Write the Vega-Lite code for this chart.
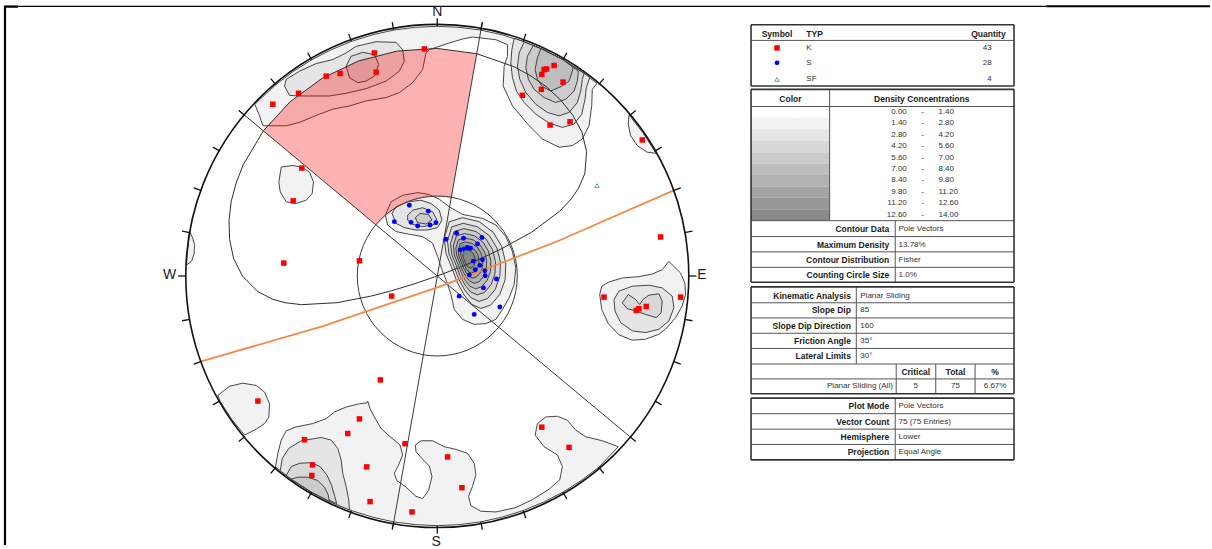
{
"$schema":"https://vega.github.io/schema/vega-lite/v6.json",
"width":1212,"height":549,"padding":0,
"autosize":{"type":"fit","contains":"padding"},
"background":"white",
"config":{"view":{"stroke":null},"font":"Liberation Sans"},
"encoding":{
 "x":{"field":"x","type":"quantitative","scale":{"domain":[-438,774],"nice":false,"zero":false},"axis":null},
 "y":{"field":"y","type":"quantitative","scale":{"domain":[-278,271],"nice":false,"zero":false,"reverse":true},"axis":null}
},
"datasets":{
"contours":[
{"id":"A1","lev":1,"x":-182.7,"y":-172.8},{"id":"A1","lev":1,"x":-178,"y":-161.3},{"id":"A1","lev":1,"x":-174.7,"y":-151.3},{"id":"A1","lev":1,"x":-151.3,"y":-151.3},{"id":"A1","lev":1,"x":-138,"y":-154.7},{"id":"A1","lev":1,"x":-118,"y":-163},{"id":"A1","lev":1,"x":-104.7,"y":-168},{"id":"A1","lev":1,"x":-88,"y":-171.3},{"id":"A1","lev":1,"x":-71.3,"y":-176.3},{"id":"A1","lev":1,"x":-51.3,"y":-179.7},{"id":"A1","lev":1,"x":-38,"y":-184.7},{"id":"A1","lev":1,"x":-24.7,"y":-194.7},{"id":"A1","lev":1,"x":-14.7,"y":-208},{"id":"A1","lev":1,"x":-11.3,"y":-224.7},{"id":"A1","lev":1,"x":-8,"y":-228},{"id":"A1","lev":1,"x":12,"y":-234.7},{"id":"A1","lev":1,"x":25.3,"y":-238.7},{"id":"A1","lev":1,"x":35.3,"y":-240.7},{"id":"A1","lev":1,"x":58.7,"y":-238},{"id":"A1","lev":1,"x":70.3,"y":-233},{"id":"A1","lev":1,"x":70.3,"y":-221.3},{"id":"A1","lev":1,"x":67,"y":-211.3},{"id":"A1","lev":1,"x":66,"y":-191.3},{"id":"A1","lev":1,"x":75.3,"y":-171.3},{"id":"A1","lev":1,"x":92,"y":-151.3},{"id":"A1","lev":1,"x":105.3,"y":-138},{"id":"A1","lev":1,"x":122,"y":-129.7},{"id":"A1","lev":1,"x":135.3,"y":-131.3},{"id":"A1","lev":1,"x":145.3,"y":-138},{"id":"A1","lev":1,"x":152,"y":-151.3},{"id":"A1","lev":1,"x":154.7,"y":-171.3},{"id":"A1","lev":1,"x":155.3,"y":-188},{"id":"A1","lev":1,"x":160,"y":-194.1},{"id":"A1","lev":1,"x":144.3,"y":-206},{"id":"A1","lev":1,"x":125.8,"y":-217.8},{"id":"A1","lev":1,"x":106.3,"y":-227.9},{"id":"A1","lev":1,"x":86,"y":-236.3},{"id":"A1","lev":1,"x":65.1,"y":-242.9},{"id":"A1","lev":1,"x":43.7,"y":-247.7},{"id":"A1","lev":1,"x":21.9,"y":-250.5},{"id":"A1","lev":1,"x":0,"y":-251.5},{"id":"A1","lev":1,"x":-21.9,"y":-250.5},{"id":"A1","lev":1,"x":-43.7,"y":-247.7},{"id":"A1","lev":1,"x":-65.1,"y":-242.9},{"id":"A1","lev":1,"x":-86,"y":-236.3},{"id":"A1","lev":1,"x":-106.3,"y":-227.9},{"id":"A1","lev":1,"x":-125.8,"y":-217.8},{"id":"A1","lev":1,"x":-144.3,"y":-206},{"id":"A1","lev":1,"x":-161.7,"y":-192.7},{"id":"A1","lev":1,"x":-177.8,"y":-177.8},
{"id":"A2","lev":2,"x":-151.3,"y":-198},{"id":"A2","lev":2,"x":-138,"y":-206.3},{"id":"A2","lev":2,"x":-121.3,"y":-214},{"id":"A2","lev":2,"x":-104.7,"y":-218},{"id":"A2","lev":2,"x":-91.3,"y":-224.7},{"id":"A2","lev":2,"x":-81.3,"y":-231.3},{"id":"A2","lev":2,"x":-61.3,"y":-236},{"id":"A2","lev":2,"x":-41.3,"y":-235.3},{"id":"A2","lev":2,"x":-34.7,"y":-228},{"id":"A2","lev":2,"x":-33,"y":-216.3},{"id":"A2","lev":2,"x":-38,"y":-206.3},{"id":"A2","lev":2,"x":-51.3,"y":-196.3},{"id":"A2","lev":2,"x":-71.3,"y":-188.7},{"id":"A2","lev":2,"x":-91.3,"y":-184},{"id":"A2","lev":2,"x":-108,"y":-181.3},{"id":"A2","lev":2,"x":-124.7,"y":-181.3},{"id":"A2","lev":2,"x":-139.7,"y":-181.3},{"id":"A2","lev":2,"x":-148,"y":-182},{"id":"A2","lev":2,"x":-153,"y":-191.3},
{"id":"A3","lev":3,"x":-91.3,"y":-211.3},{"id":"A3","lev":3,"x":-86.3,"y":-221.3},{"id":"A3","lev":3,"x":-74.7,"y":-225.3},{"id":"A3","lev":3,"x":-63,"y":-223},{"id":"A3","lev":3,"x":-58.7,"y":-213},{"id":"A3","lev":3,"x":-63,"y":-201.3},{"id":"A3","lev":3,"x":-71.3,"y":-196.3},{"id":"A3","lev":3,"x":-79.7,"y":-194.7},{"id":"A3","lev":3,"x":-88,"y":-199.7},
{"id":"T2","lev":2,"x":77,"y":-239.3},{"id":"T2","lev":2,"x":74.7,"y":-228},{"id":"T2","lev":2,"x":73.7,"y":-214.7},{"id":"T2","lev":2,"x":75.3,"y":-199.7},{"id":"T2","lev":2,"x":79.3,"y":-186.3},{"id":"T2","lev":2,"x":87,"y":-174.7},{"id":"T2","lev":2,"x":98.7,"y":-163},{"id":"T2","lev":2,"x":112,"y":-154},{"id":"T2","lev":2,"x":125.3,"y":-149.7},{"id":"T2","lev":2,"x":137,"y":-153},{"id":"T2","lev":2,"x":144.7,"y":-163},{"id":"T2","lev":2,"x":148,"y":-178},{"id":"T2","lev":2,"x":149.3,"y":-189.7},{"id":"T2","lev":2,"x":152.7,"y":-200},{"id":"T2","lev":2,"x":144.3,"y":-206},{"id":"T2","lev":2,"x":125.8,"y":-217.8},{"id":"T2","lev":2,"x":106.3,"y":-227.9},{"id":"T2","lev":2,"x":86,"y":-236.3},
{"id":"T3","lev":3,"x":87,"y":-235.7},{"id":"T3","lev":3,"x":82,"y":-224.7},{"id":"T3","lev":3,"x":80.3,"y":-211.3},{"id":"T3","lev":3,"x":82.7,"y":-198},{"id":"T3","lev":3,"x":88.7,"y":-184.7},{"id":"T3","lev":3,"x":98.7,"y":-173},{"id":"T3","lev":3,"x":110.3,"y":-164.7},{"id":"T3","lev":3,"x":122,"y":-161.3},{"id":"T3","lev":3,"x":132,"y":-164.7},{"id":"T3","lev":3,"x":140.3,"y":-174.7},{"id":"T3","lev":3,"x":143.7,"y":-186.3},{"id":"T3","lev":3,"x":145.3,"y":-198},{"id":"T3","lev":3,"x":147,"y":-204},{"id":"T3","lev":3,"x":125.8,"y":-217.8},{"id":"T3","lev":3,"x":106.3,"y":-227.9},
{"id":"T4","lev":4,"x":96,"y":-232},{"id":"T4","lev":4,"x":90.3,"y":-221.3},{"id":"T4","lev":4,"x":88.7,"y":-209.7},{"id":"T4","lev":4,"x":91.3,"y":-198},{"id":"T4","lev":4,"x":97,"y":-188},{"id":"T4","lev":4,"x":107,"y":-179.7},{"id":"T4","lev":4,"x":118.7,"y":-174.7},{"id":"T4","lev":4,"x":128.7,"y":-178},{"id":"T4","lev":4,"x":137,"y":-186.3},{"id":"T4","lev":4,"x":140.3,"y":-196.3},{"id":"T4","lev":4,"x":141.3,"y":-206.3},{"id":"T4","lev":4,"x":125.8,"y":-217.8},{"id":"T4","lev":4,"x":106.3,"y":-227.9},
{"id":"T5","lev":5,"x":103.7,"y":-229},{"id":"T5","lev":5,"x":100.3,"y":-219.7},{"id":"T5","lev":5,"x":98,"y":-208},{"id":"T5","lev":5,"x":100.3,"y":-198},{"id":"T5","lev":5,"x":105.3,"y":-190.7},{"id":"T5","lev":5,"x":113.7,"y":-186.3},{"id":"T5","lev":5,"x":123.7,"y":-190.7},{"id":"T5","lev":5,"x":132,"y":-196.3},{"id":"T5","lev":5,"x":135.3,"y":-206.3},{"id":"T5","lev":5,"x":136,"y":-210.3},{"id":"T5","lev":5,"x":125.8,"y":-217.8},
{"id":"C1","lev":1,"x":192.1,"y":-162.3},{"id":"C1","lev":1,"x":191.3,"y":-153},{"id":"C1","lev":1,"x":193.7,"y":-141.3},{"id":"C1","lev":1,"x":200.3,"y":-131.3},{"id":"C1","lev":1,"x":210.3,"y":-124.7},{"id":"C1","lev":1,"x":219.3,"y":-123.5},{"id":"C1","lev":1,"x":206,"y":-144.3},
{"id":"D1","lev":1,"x":-156.3,"y":-109.7},{"id":"D1","lev":1,"x":-144.7,"y":-111.3},{"id":"D1","lev":1,"x":-136.3,"y":-109.7},{"id":"D1","lev":1,"x":-128,"y":-104.7},{"id":"D1","lev":1,"x":-124,"y":-94.7},{"id":"D1","lev":1,"x":-125.3,"y":-83},{"id":"D1","lev":1,"x":-131.3,"y":-76.3},{"id":"D1","lev":1,"x":-141.3,"y":-73},{"id":"D1","lev":1,"x":-151.3,"y":-74.7},{"id":"D1","lev":1,"x":-157.3,"y":-84.7},{"id":"D1","lev":1,"x":-158.7,"y":-94.7},
{"id":"J1","lev":1,"x":-247.6,"y":-44},{"id":"J1","lev":1,"x":-245,"y":-38},{"id":"J1","lev":1,"x":-243,"y":-31},{"id":"J1","lev":1,"x":-243.7,"y":-22},{"id":"J1","lev":1,"x":-246,"y":-15},{"id":"J1","lev":1,"x":-251.2,"y":-11},{"id":"J1","lev":1,"x":-250.5,"y":-21.9},{"id":"J1","lev":1,"x":-249.3,"y":-33},
{"id":"E1","lev":1,"x":-52,"y":-61.3},{"id":"E1","lev":1,"x":-46.3,"y":-74.7},{"id":"E1","lev":1,"x":-34.7,"y":-81.3},{"id":"E1","lev":1,"x":-19.7,"y":-84},{"id":"E1","lev":1,"x":-8,"y":-82},{"id":"E1","lev":1,"x":2,"y":-77.3},{"id":"E1","lev":1,"x":12,"y":-69.7},{"id":"E1","lev":1,"x":25.3,"y":-62},{"id":"E1","lev":1,"x":45.3,"y":-58},{"id":"E1","lev":1,"x":58.7,"y":-51.3},{"id":"E1","lev":1,"x":68.7,"y":-39.7},{"id":"E1","lev":1,"x":75.3,"y":-24.7},{"id":"E1","lev":1,"x":78.7,"y":-8},{"id":"E1","lev":1,"x":77,"y":8.7},{"id":"E1","lev":1,"x":72,"y":22},{"id":"E1","lev":1,"x":65.3,"y":33.7},{"id":"E1","lev":1,"x":58.7,"y":43.7},{"id":"E1","lev":1,"x":48.7,"y":48},{"id":"E1","lev":1,"x":37,"y":48.7},{"id":"E1","lev":1,"x":25.3,"y":43.7},{"id":"E1","lev":1,"x":17,"y":33.7},{"id":"E1","lev":1,"x":13.7,"y":18.7},{"id":"E1","lev":1,"x":9.3,"y":5.3},{"id":"E1","lev":1,"x":4.7,"y":-6.3},{"id":"E1","lev":1,"x":0.3,"y":-19.7},{"id":"E1","lev":1,"x":-4.7,"y":-33},{"id":"E1","lev":1,"x":-14.7,"y":-39.7},{"id":"E1","lev":1,"x":-28,"y":-42},{"id":"E1","lev":1,"x":-41.3,"y":-44.7},{"id":"E1","lev":1,"x":-49.7,"y":-51.3},
{"id":"EL2","lev":2,"x":-45.3,"y":-63},{"id":"EL2","lev":2,"x":-41.3,"y":-69.7},{"id":"EL2","lev":2,"x":-29.7,"y":-74.7},{"id":"EL2","lev":2,"x":-16.3,"y":-76.3},{"id":"EL2","lev":2,"x":-6.3,"y":-73},{"id":"EL2","lev":2,"x":2,"y":-66.3},{"id":"EL2","lev":2,"x":4.7,"y":-56.3},{"id":"EL2","lev":2,"x":0.3,"y":-48.7},{"id":"EL2","lev":2,"x":-9.7,"y":-46.3},{"id":"EL2","lev":2,"x":-21.3,"y":-46.3},{"id":"EL2","lev":2,"x":-33,"y":-48.7},{"id":"EL2","lev":2,"x":-41.3,"y":-53},
{"id":"EL3","lev":3,"x":-29.7,"y":-61.3},{"id":"EL3","lev":3,"x":-24.7,"y":-66.3},{"id":"EL3","lev":3,"x":-14.7,"y":-68.7},{"id":"EL3","lev":3,"x":-4.7,"y":-64.7},{"id":"EL3","lev":3,"x":-0.7,"y":-57.3},{"id":"EL3","lev":3,"x":-4,"y":-51.3},{"id":"EL3","lev":3,"x":-14.7,"y":-49.7},{"id":"EL3","lev":3,"x":-24.7,"y":-52},{"id":"EL3","lev":3,"x":-29.7,"y":-56.3},
{"id":"EL4","lev":4,"x":-22,"y":-58.7},{"id":"EL4","lev":4,"x":-17.3,"y":-63},{"id":"EL4","lev":4,"x":-8.7,"y":-62},{"id":"EL4","lev":4,"x":-5.3,"y":-56.3},{"id":"EL4","lev":4,"x":-11.3,"y":-52.3},{"id":"EL4","lev":4,"x":-19.7,"y":-53.7},
{"id":"ER2","lev":2,"x":12,"y":-54.7},{"id":"ER2","lev":2,"x":25.3,"y":-58.7},{"id":"ER2","lev":2,"x":42,"y":-54.7},{"id":"ER2","lev":2,"x":56,"y":-44},{"id":"ER2","lev":2,"x":64.6,"y":-29.7},{"id":"ER2","lev":2,"x":68.6,"y":-13},{"id":"ER2","lev":2,"x":68,"y":3.7},{"id":"ER2","lev":2,"x":62.6,"y":18.7},{"id":"ER2","lev":2,"x":53.6,"y":29.3},{"id":"ER2","lev":2,"x":43.6,"y":32.7},{"id":"ER2","lev":2,"x":34.6,"y":28.7},{"id":"ER2","lev":2,"x":27,"y":19.3},{"id":"ER2","lev":2,"x":20.3,"y":7},{"id":"ER2","lev":2,"x":14.6,"y":-8},{"id":"ER2","lev":2,"x":8.6,"y":-23},{"id":"ER2","lev":2,"x":7,"y":-38},
{"id":"ER3","lev":3,"x":14.5,"y":-49.5},{"id":"ER3","lev":3,"x":26,"y":-53},{"id":"ER3","lev":3,"x":40.3,"y":-49.5},{"id":"ER3","lev":3,"x":52.4,"y":-40.4},{"id":"ER3","lev":3,"x":59.8,"y":-28},{"id":"ER3","lev":3,"x":63.3,"y":-13.7},{"id":"ER3","lev":3,"x":62.7,"y":0.6},{"id":"ER3","lev":3,"x":58.1,"y":13.5},{"id":"ER3","lev":3,"x":50.4,"y":22.7},{"id":"ER3","lev":3,"x":41.8,"y":25.6},{"id":"ER3","lev":3,"x":34,"y":22.1},{"id":"ER3","lev":3,"x":27.4,"y":14.1},{"id":"ER3","lev":3,"x":21.7,"y":3.5},{"id":"ER3","lev":3,"x":16.8,"y":-9.4},{"id":"ER3","lev":3,"x":11.7,"y":-22.3},{"id":"ER3","lev":3,"x":10.2,"y":-35.2},
{"id":"ER4","lev":4,"x":16.9,"y":-44.8},{"id":"ER4","lev":4,"x":26.7,"y":-47.7},{"id":"ER4","lev":4,"x":38.8,"y":-44.8},{"id":"ER4","lev":4,"x":49,"y":-37},{"id":"ER4","lev":4,"x":55.4,"y":-26.5},{"id":"ER4","lev":4,"x":58.3,"y":-14.4},{"id":"ER4","lev":4,"x":57.8,"y":-2.2},{"id":"ER4","lev":4,"x":53.9,"y":8.8},{"id":"ER4","lev":4,"x":47.3,"y":16.6},{"id":"ER4","lev":4,"x":40,"y":19},{"id":"ER4","lev":4,"x":33.5,"y":16.1},{"id":"ER4","lev":4,"x":27.9,"y":9.3},{"id":"ER4","lev":4,"x":23,"y":0.3},{"id":"ER4","lev":4,"x":18.9,"y":-10.7},{"id":"ER4","lev":4,"x":14.5,"y":-21.7},{"id":"ER4","lev":4,"x":13.3,"y":-32.6},
{"id":"ER5","lev":5,"x":19.1,"y":-40.4},{"id":"ER5","lev":5,"x":27.3,"y":-42.8},{"id":"ER5","lev":5,"x":37.4,"y":-40.4},{"id":"ER5","lev":5,"x":46,"y":-33.9},{"id":"ER5","lev":5,"x":51.2,"y":-25.1},{"id":"ER5","lev":5,"x":53.7,"y":-15},{"id":"ER5","lev":5,"x":53.3,"y":-4.8},{"id":"ER5","lev":5,"x":50,"y":4.4},{"id":"ER5","lev":5,"x":44.5,"y":10.9},{"id":"ER5","lev":5,"x":38.4,"y":12.9},{"id":"ER5","lev":5,"x":32.9,"y":10.5},{"id":"ER5","lev":5,"x":28.3,"y":4.8},{"id":"ER5","lev":5,"x":24.2,"y":-2.8},{"id":"ER5","lev":5,"x":20.7,"y":-11.9},{"id":"ER5","lev":5,"x":17.1,"y":-21.1},{"id":"ER5","lev":5,"x":16.1,"y":-30.2},
{"id":"ER6","lev":6,"x":21.1,"y":-36.3},{"id":"ER6","lev":6,"x":27.8,"y":-38.3},{"id":"ER6","lev":6,"x":36.1,"y":-36.3},{"id":"ER6","lev":6,"x":43.1,"y":-31},{"id":"ER6","lev":6,"x":47.5,"y":-23.8},{"id":"ER6","lev":6,"x":49.5,"y":-15.5},{"id":"ER6","lev":6,"x":49.1,"y":-7.2},{"id":"ER6","lev":6,"x":46.5,"y":0.3},{"id":"ER6","lev":6,"x":42,"y":5.7},{"id":"ER6","lev":6,"x":37,"y":7.3},{"id":"ER6","lev":6,"x":32.5,"y":5.3},{"id":"ER6","lev":6,"x":28.6,"y":0.7},{"id":"ER6","lev":6,"x":25.3,"y":-5.5},{"id":"ER6","lev":6,"x":22.5,"y":-13},{"id":"ER6","lev":6,"x":19.5,"y":-20.5},{"id":"ER6","lev":6,"x":18.6,"y":-28},
{"id":"ER7","lev":7,"x":23,"y":-32.7},{"id":"ER7","lev":7,"x":28.3,"y":-34.3},{"id":"ER7","lev":7,"x":35,"y":-32.7},{"id":"ER7","lev":7,"x":40.6,"y":-28.4},{"id":"ER7","lev":7,"x":44,"y":-22.7},{"id":"ER7","lev":7,"x":45.6,"y":-16},{"id":"ER7","lev":7,"x":45.4,"y":-9.3},{"id":"ER7","lev":7,"x":43.2,"y":-3.3},{"id":"ER7","lev":7,"x":39.6,"y":0.9},{"id":"ER7","lev":7,"x":35.6,"y":2.3},{"id":"ER7","lev":7,"x":32,"y":0.7},{"id":"ER7","lev":7,"x":29,"y":-3.1},{"id":"ER7","lev":7,"x":26.3,"y":-8},{"id":"ER7","lev":7,"x":24,"y":-14},{"id":"ER7","lev":7,"x":21.6,"y":-20},{"id":"ER7","lev":7,"x":21,"y":-26},
{"id":"ER8","lev":8,"x":24.8,"y":-29},{"id":"ER8","lev":8,"x":28.8,"y":-30.2},{"id":"ER8","lev":8,"x":33.8,"y":-29},{"id":"ER8","lev":8,"x":38,"y":-25.8},{"id":"ER8","lev":8,"x":40.6,"y":-21.5},{"id":"ER8","lev":8,"x":41.8,"y":-16.5},{"id":"ER8","lev":8,"x":41.6,"y":-11.5},{"id":"ER8","lev":8,"x":40,"y":-7},{"id":"ER8","lev":8,"x":37.3,"y":-3.8},{"id":"ER8","lev":8,"x":34.3,"y":-2.8},{"id":"ER8","lev":8,"x":31.6,"y":-4},{"id":"ER8","lev":8,"x":29.3,"y":-6.8},{"id":"ER8","lev":8,"x":27.3,"y":-10.5},{"id":"ER8","lev":8,"x":25.6,"y":-15},{"id":"ER8","lev":8,"x":23.8,"y":-19.5},{"id":"ER8","lev":8,"x":23.3,"y":-24},
{"id":"ER9","lev":9,"x":26.6,"y":-25.3},{"id":"ER9","lev":9,"x":29.3,"y":-26.1},{"id":"ER9","lev":9,"x":32.6,"y":-25.3},{"id":"ER9","lev":9,"x":35.4,"y":-23.2},{"id":"ER9","lev":9,"x":37.2,"y":-20.3},{"id":"ER9","lev":9,"x":38,"y":-17},{"id":"ER9","lev":9,"x":37.8,"y":-13.7},{"id":"ER9","lev":9,"x":36.8,"y":-10.7},{"id":"ER9","lev":9,"x":35,"y":-8.5},{"id":"ER9","lev":9,"x":33,"y":-7.9},{"id":"ER9","lev":9,"x":31.2,"y":-8.7},{"id":"ER9","lev":9,"x":29.6,"y":-10.5},{"id":"ER9","lev":9,"x":28.3,"y":-13},{"id":"ER9","lev":9,"x":27.2,"y":-16},{"id":"ER9","lev":9,"x":26,"y":-19},{"id":"ER9","lev":9,"x":25.6,"y":-22},
{"id":"F1","lev":1,"x":162.7,"y":18.7},{"id":"F1","lev":1,"x":164.7,"y":10.3},{"id":"F1","lev":1,"x":172,"y":6},{"id":"F1","lev":1,"x":185.3,"y":2},{"id":"F1","lev":1,"x":202,"y":0.7},{"id":"F1","lev":1,"x":215.3,"y":-2},{"id":"F1","lev":1,"x":225.3,"y":-6.3},{"id":"F1","lev":1,"x":232,"y":-14.7},{"id":"F1","lev":1,"x":237,"y":-9.7},{"id":"F1","lev":1,"x":243.7,"y":-3},{"id":"F1","lev":1,"x":248,"y":7},{"id":"F1","lev":1,"x":248.7,"y":18.7},{"id":"F1","lev":1,"x":245.3,"y":30.3},{"id":"F1","lev":1,"x":238.7,"y":42},{"id":"F1","lev":1,"x":230.3,"y":52},{"id":"F1","lev":1,"x":222,"y":58.7},{"id":"F1","lev":1,"x":208.7,"y":63.7},{"id":"F1","lev":1,"x":195.3,"y":64.7},{"id":"F1","lev":1,"x":182,"y":59.3},{"id":"F1","lev":1,"x":171.3,"y":48},{"id":"F1","lev":1,"x":164.7,"y":33.7},
{"id":"F2","lev":2,"x":177,"y":23.7},{"id":"F2","lev":2,"x":182,"y":15.3},{"id":"F2","lev":2,"x":195.3,"y":10.3},{"id":"F2","lev":2,"x":212,"y":9.3},{"id":"F2","lev":2,"x":225.3,"y":12},{"id":"F2","lev":2,"x":235.3,"y":20.3},{"id":"F2","lev":2,"x":237,"y":32},{"id":"F2","lev":2,"x":232,"y":45.3},{"id":"F2","lev":2,"x":222,"y":53.7},{"id":"F2","lev":2,"x":208.7,"y":57},{"id":"F2","lev":2,"x":195.3,"y":55.3},{"id":"F2","lev":2,"x":183.7,"y":47},{"id":"F2","lev":2,"x":178,"y":35.3},
{"id":"F3","lev":3,"x":185.3,"y":27},{"id":"F3","lev":3,"x":191.3,"y":18.7},{"id":"F3","lev":3,"x":198.7,"y":23.7},{"id":"F3","lev":3,"x":202.7,"y":28.7},{"id":"F3","lev":3,"x":206,"y":23.7},{"id":"F3","lev":3,"x":212,"y":19.3},{"id":"F3","lev":3,"x":222,"y":18},{"id":"F3","lev":3,"x":225.3,"y":25.3},{"id":"F3","lev":3,"x":224.3,"y":37},{"id":"F3","lev":3,"x":219.3,"y":42},{"id":"F3","lev":3,"x":208.7,"y":38.7},{"id":"F3","lev":3,"x":197,"y":34.7},{"id":"F3","lev":3,"x":190.3,"y":33},
{"id":"G1","lev":1,"x":-162,"y":192},{"id":"G1","lev":1,"x":-159.7,"y":178.7},{"id":"G1","lev":1,"x":-156.3,"y":165.3},{"id":"G1","lev":1,"x":-151.3,"y":156},{"id":"G1","lev":1,"x":-141.3,"y":152},{"id":"G1","lev":1,"x":-124.7,"y":148.7},{"id":"G1","lev":1,"x":-111.3,"y":143.7},{"id":"G1","lev":1,"x":-103,"y":137},{"id":"G1","lev":1,"x":-91.3,"y":132},{"id":"G1","lev":1,"x":-78,"y":128.7},{"id":"G1","lev":1,"x":-70.7,"y":128},{"id":"G1","lev":1,"x":-69.7,"y":126},{"id":"G1","lev":1,"x":-67.3,"y":133.7},{"id":"G1","lev":1,"x":-63,"y":142},{"id":"G1","lev":1,"x":-56.3,"y":153.7},{"id":"G1","lev":1,"x":-46.3,"y":162.7},{"id":"G1","lev":1,"x":-37.3,"y":170.3},{"id":"G1","lev":1,"x":-34.7,"y":180.3},{"id":"G1","lev":1,"x":-38.7,"y":190.3},{"id":"G1","lev":1,"x":-43,"y":198.7},{"id":"G1","lev":1,"x":-40.7,"y":206},{"id":"G1","lev":1,"x":-31.3,"y":212.7},{"id":"G1","lev":1,"x":-21.3,"y":222},{"id":"G1","lev":1,"x":-14.7,"y":224.3},{"id":"G1","lev":1,"x":-8.7,"y":216},{"id":"G1","lev":1,"x":-5.3,"y":202},{"id":"G1","lev":1,"x":-8,"y":191.3},{"id":"G1","lev":1,"x":-14.7,"y":184.7},{"id":"G1","lev":1,"x":-21.3,"y":177},{"id":"G1","lev":1,"x":-22,"y":170.3},{"id":"G1","lev":1,"x":-16.3,"y":166},{"id":"G1","lev":1,"x":-4.7,"y":166},{"id":"G1","lev":1,"x":7,"y":172},{"id":"G1","lev":1,"x":18.7,"y":174.7},{"id":"G1","lev":1,"x":30.3,"y":178.7},{"id":"G1","lev":1,"x":37,"y":188.7},{"id":"G1","lev":1,"x":38.7,"y":200.3},{"id":"G1","lev":1,"x":35.3,"y":212},{"id":"G1","lev":1,"x":31.3,"y":222},{"id":"G1","lev":1,"x":33.7,"y":231.3},{"id":"G1","lev":1,"x":43.7,"y":237},{"id":"G1","lev":1,"x":58.7,"y":237.7},{"id":"G1","lev":1,"x":78.7,"y":233.3},{"id":"G1","lev":1,"x":95.3,"y":225.3},{"id":"G1","lev":1,"x":112,"y":214.7},{"id":"G1","lev":1,"x":122.7,"y":205.3},{"id":"G1","lev":1,"x":125.3,"y":192},{"id":"G1","lev":1,"x":120.3,"y":180.3},{"id":"G1","lev":1,"x":107,"y":172},{"id":"G1","lev":1,"x":98,"y":160.3},{"id":"G1","lev":1,"x":100.3,"y":148.7},{"id":"G1","lev":1,"x":108.7,"y":142},{"id":"G1","lev":1,"x":120.3,"y":141.3},{"id":"G1","lev":1,"x":130.3,"y":145.3},{"id":"G1","lev":1,"x":138.7,"y":155.3},{"id":"G1","lev":1,"x":148.7,"y":162},{"id":"G1","lev":1,"x":165.3,"y":166},{"id":"G1","lev":1,"x":181.3,"y":172},{"id":"G1","lev":1,"x":161.7,"y":192.7},{"id":"G1","lev":1,"x":144.3,"y":206},{"id":"G1","lev":1,"x":125.8,"y":217.8},{"id":"G1","lev":1,"x":106.3,"y":227.9},{"id":"G1","lev":1,"x":86,"y":236.3},{"id":"G1","lev":1,"x":65.1,"y":242.9},{"id":"G1","lev":1,"x":43.7,"y":247.7},{"id":"G1","lev":1,"x":21.9,"y":250.5},{"id":"G1","lev":1,"x":0,"y":251.5},{"id":"G1","lev":1,"x":-21.9,"y":250.5},{"id":"G1","lev":1,"x":-43.7,"y":247.7},{"id":"G1","lev":1,"x":-65.1,"y":242.9},{"id":"G1","lev":1,"x":-86,"y":236.3},{"id":"G1","lev":1,"x":-106.3,"y":227.9},{"id":"G1","lev":1,"x":-125.8,"y":217.8},{"id":"G1","lev":1,"x":-144.3,"y":206},{"id":"G1","lev":1,"x":-161.7,"y":192.7},
{"id":"G2","lev":2,"x":-157.3,"y":196.3},{"id":"G2","lev":2,"x":-155.3,"y":183.7},{"id":"G2","lev":2,"x":-148.7,"y":173.7},{"id":"G2","lev":2,"x":-136.3,"y":166},{"id":"G2","lev":2,"x":-116.3,"y":162.7},{"id":"G2","lev":2,"x":-106.3,"y":165.3},{"id":"G2","lev":2,"x":-99.7,"y":173.7},{"id":"G2","lev":2,"x":-96.3,"y":185.3},{"id":"G2","lev":2,"x":-94.7,"y":198.7},{"id":"G2","lev":2,"x":-91.3,"y":212},{"id":"G2","lev":2,"x":-88.7,"y":225.3},{"id":"G2","lev":2,"x":-88,"y":235.7},{"id":"G2","lev":2,"x":-106.3,"y":227.9},{"id":"G2","lev":2,"x":-125.8,"y":217.8},{"id":"G2","lev":2,"x":-144.3,"y":206},
{"id":"G3","lev":3,"x":-151.3,"y":201},{"id":"G3","lev":3,"x":-146.3,"y":192},{"id":"G3","lev":3,"x":-138,"y":188.7},{"id":"G3","lev":3,"x":-126.3,"y":188},{"id":"G3","lev":3,"x":-117.3,"y":192},{"id":"G3","lev":3,"x":-110.7,"y":200.3},{"id":"G3","lev":3,"x":-106,"y":210.3},{"id":"G3","lev":3,"x":-102.7,"y":222},{"id":"G3","lev":3,"x":-100.7,"y":229.3},{"id":"G3","lev":3,"x":-125.8,"y":217.8},{"id":"G3","lev":3,"x":-144.3,"y":206},
{"id":"G4","lev":4,"x":-146.3,"y":204.7},{"id":"G4","lev":4,"x":-139.7,"y":202.7},{"id":"G4","lev":4,"x":-129.7,"y":202.7},{"id":"G4","lev":4,"x":-119.7,"y":206},{"id":"G4","lev":4,"x":-113,"y":212.7},{"id":"G4","lev":4,"x":-109.3,"y":220.3},{"id":"G4","lev":4,"x":-108,"y":227},{"id":"G4","lev":4,"x":-125.8,"y":217.8},
{"id":"I1","lev":1,"x":-219.7,"y":120.3},{"id":"I1","lev":1,"x":-208,"y":111},{"id":"I1","lev":1,"x":-194.7,"y":108},{"id":"I1","lev":1,"x":-181.3,"y":110.3},{"id":"I1","lev":1,"x":-173,"y":117},{"id":"I1","lev":1,"x":-168,"y":128.7},{"id":"I1","lev":1,"x":-168.7,"y":142},{"id":"I1","lev":1,"x":-173,"y":148.7},{"id":"I1","lev":1,"x":-181.3,"y":154.3},{"id":"I1","lev":1,"x":-193,"y":160.3},{"id":"I1","lev":1,"x":-206,"y":144.3},{"id":"I1","lev":1,"x":-217.8,"y":125.8}
],
"wedge":[
{"x":-61.3,"y":-51.4},{"x":-174.2,"y":-146.2},{"x":-147.3,"y":-175.6},{"x":-115.1,"y":-199.3},{"x":-78.8,"y":-216.6},{"x":-39.9,"y":-226.6},{"x":0,"y":-229.2},{"x":39.5,"y":-223.9},{"x":13.9,"y":-78.8},{"x":0,"y":-80},{"x":-13.9,"y":-78.8},{"x":-27.4,"y":-75.2},{"x":-40,"y":-69.3},{"x":-51.4,"y":-61.3}
],
"envelope":[
{"x":0,"y":0},{"x":-23.4,"y":8.1},{"x":-45.9,"y":14.9},{"x":-66.5,"y":20.3},{"x":-100.4,"y":26.9},{"x":-136,"y":28.9},{"x":-152.5,"y":26.9},{"x":-165.4,"y":23.2},{"x":-179.8,"y":15.7},{"x":-195.2,"y":0},{"x":-204.1,"y":-17.9},{"x":-208,"y":-36.7},{"x":-208.6,"y":-55.9},{"x":-206.4,"y":-75.1},{"x":-201.4,"y":-93.9},{"x":-194.3,"y":-112.2},{"x":-174.2,"y":-146.2},{"x":-147.3,"y":-175.6},{"x":-115.1,"y":-199.3},{"x":-78.8,"y":-216.6},{"x":-39.9,"y":-226.6},{"x":0,"y":-229.2},{"x":39.5,"y":-223.9},{"x":76.7,"y":-210.9},{"x":93.9,"y":-201.4},{"x":109.8,"y":-190.2},{"x":123.9,"y":-176.9},{"x":135.8,"y":-161.8},{"x":144.9,"y":-144.9},{"x":149.5,"y":-125.5},{"x":147.9,"y":-103.5},{"x":141.6,"y":-88.5},{"x":134.1,"y":-77.5},{"x":122.7,"y":-65.3},{"x":94.2,"y":-43.9},{"x":64,"y":-27.2},{"x":44.8,"y":-18.1},{"x":23.2,"y":-8.9},{"x":0,"y":0}
],
"slopeface":[
{"x":-236.3,"y":86},{"x":-115.3,"y":50.7},{"x":3.8,"y":10.3},{"x":121,"y":-35.2},{"x":236.3,"y":-86}
],
"circles":[{"x":0,"y":0,"name":"primitive"},{"x":0,"y":0,"name":"friction"}],
"rules":[
{"kind":"tick","x":0,"y":-251.5,"x2":0,"y2":-259.5},{"kind":"tick","x":43.7,"y":-247.7,"x2":45.1,"y2":-255.6},{"kind":"tick","x":86,"y":-236.3,"x2":88.7,"y2":-243.9},{"kind":"tick","x":125.8,"y":-217.8,"x2":129.8,"y2":-224.7},{"kind":"tick","x":161.7,"y":-192.7,"x2":166.8,"y2":-198.8},{"kind":"tick","x":192.7,"y":-161.7,"x2":198.8,"y2":-166.8},{"kind":"tick","x":217.8,"y":-125.8,"x2":224.7,"y2":-129.8},{"kind":"tick","x":236.3,"y":-86,"x2":243.9,"y2":-88.7},{"kind":"tick","x":247.7,"y":-43.7,"x2":255.6,"y2":-45.1},{"kind":"tick","x":251.5,"y":0,"x2":259.5,"y2":0},{"kind":"tick","x":247.7,"y":43.7,"x2":255.6,"y2":45.1},{"kind":"tick","x":236.3,"y":86,"x2":243.9,"y2":88.7},{"kind":"tick","x":217.8,"y":125.8,"x2":224.7,"y2":129.8},{"kind":"tick","x":192.7,"y":161.7,"x2":198.8,"y2":166.8},{"kind":"tick","x":161.7,"y":192.7,"x2":166.8,"y2":198.8},{"kind":"tick","x":125.8,"y":217.8,"x2":129.8,"y2":224.7},{"kind":"tick","x":86,"y":236.3,"x2":88.7,"y2":243.9},{"kind":"tick","x":43.7,"y":247.7,"x2":45.1,"y2":255.6},{"kind":"tick","x":0,"y":251.5,"x2":0,"y2":259.5},{"kind":"tick","x":-43.7,"y":247.7,"x2":-45.1,"y2":255.6},{"kind":"tick","x":-86,"y":236.3,"x2":-88.7,"y2":243.9},{"kind":"tick","x":-125.8,"y":217.8,"x2":-129.8,"y2":224.7},{"kind":"tick","x":-161.7,"y":192.7,"x2":-166.8,"y2":198.8},{"kind":"tick","x":-192.7,"y":161.7,"x2":-198.8,"y2":166.8},{"kind":"tick","x":-217.8,"y":125.8,"x2":-224.7,"y2":129.8},{"kind":"tick","x":-236.3,"y":86,"x2":-243.9,"y2":88.7},{"kind":"tick","x":-247.7,"y":43.7,"x2":-255.6,"y2":45.1},{"kind":"tick","x":-251.5,"y":0,"x2":-259.5,"y2":0},{"kind":"tick","x":-247.7,"y":-43.7,"x2":-255.6,"y2":-45.1},{"kind":"tick","x":-236.3,"y":-86,"x2":-243.9,"y2":-88.7},{"kind":"tick","x":-217.8,"y":-125.8,"x2":-224.7,"y2":-129.8},{"kind":"tick","x":-192.7,"y":-161.7,"x2":-198.8,"y2":-166.8},{"kind":"tick","x":-161.7,"y":-192.7,"x2":-166.8,"y2":-198.8},{"kind":"tick","x":-125.8,"y":-217.8,"x2":-129.8,"y2":-224.7},{"kind":"tick","x":-86,"y":-236.3,"x2":-88.7,"y2":-243.9},{"kind":"tick","x":-43.7,"y":-247.7,"x2":-45.1,"y2":-255.6},
{"kind":"lat","x":45.1,"y":-255.6,"x2":-44.5,"y2":253},{"kind":"lat","x":-198.8,"y":-166.8,"x2":192.7,"y2":161.7},
{"kind":"frame","x":-433,"y":-271.5,"x2":610,"y2":-271.5},{"kind":"frame2","x":-433,"y":-272,"x2":-433,"y2":271},{"kind":"frame2","x":-434,"y":-271.3,"x2":-420,"y2":-271.3},{"kind":"frame2","x":610,"y":-271.7,"x2":774,"y2":-271.7},
{"kind":"outer","x":314.3,"y":-253,"x2":577.7,"y2":-253},{"kind":"outer","x":314.3,"y":-191.3,"x2":577.7,"y2":-191.3},{"kind":"outer","x":314.3,"y":-253,"x2":314.3,"y2":-191.3},{"kind":"outer","x":577.7,"y":-253,"x2":577.7,"y2":-191.3},
{"kind":"inner","x":314.3,"y":-237.3,"x2":577.7,"y2":-237.3},
{"kind":"outer","x":314.3,"y":-188,"x2":577.7,"y2":-188},{"kind":"outer","x":314.3,"y":6.3,"x2":577.7,"y2":6.3},{"kind":"outer","x":314.3,"y":-188,"x2":314.3,"y2":6.3},{"kind":"outer","x":577.7,"y":-188,"x2":577.7,"y2":6.3},
{"kind":"inner","x":314.3,"y":-170.7,"x2":577.7,"y2":-170.7},{"kind":"inner","x":393,"y":-188,"x2":393,"y2":-55.7},{"kind":"inner","x":314.3,"y":-55.7,"x2":577.7,"y2":-55.7},{"kind":"inner","x":314.3,"y":-39.7,"x2":577.7,"y2":-39.7},{"kind":"inner","x":314.3,"y":-24.3,"x2":577.7,"y2":-24.3},{"kind":"inner","x":314.3,"y":-8.7,"x2":577.7,"y2":-8.7},{"kind":"inner","x":458.7,"y":-55.7,"x2":458.7,"y2":6.3},
{"kind":"outer","x":314.3,"y":11,"x2":577.7,"y2":11},{"kind":"outer","x":314.3,"y":118.7,"x2":577.7,"y2":118.7},{"kind":"outer","x":314.3,"y":11,"x2":314.3,"y2":118.7},{"kind":"outer","x":577.7,"y":11,"x2":577.7,"y2":118.7},
{"kind":"inner","x":314.3,"y":27,"x2":577.7,"y2":27},{"kind":"inner","x":314.3,"y":42.3,"x2":577.7,"y2":42.3},{"kind":"inner","x":314.3,"y":57.7,"x2":577.7,"y2":57.7},{"kind":"inner","x":314.3,"y":73,"x2":577.7,"y2":73},{"kind":"inner","x":314.3,"y":88.7,"x2":577.7,"y2":88.7},{"kind":"inner","x":314.3,"y":103.7,"x2":577.7,"y2":103.7},{"kind":"inner","x":419.7,"y":11,"x2":419.7,"y2":88.7},{"kind":"inner","x":459.7,"y":88.7,"x2":459.7,"y2":118.7},{"kind":"inner","x":499.3,"y":88.7,"x2":499.3,"y2":118.7},{"kind":"inner","x":538.7,"y":88.7,"x2":538.7,"y2":118.7},
{"kind":"outer","x":314.3,"y":123,"x2":577.7,"y2":123},{"kind":"outer","x":314.3,"y":185.3,"x2":577.7,"y2":185.3},{"kind":"outer","x":314.3,"y":123,"x2":314.3,"y2":185.3},{"kind":"outer","x":577.7,"y":123,"x2":577.7,"y2":185.3},
{"kind":"inner","x":314.3,"y":138.7,"x2":577.7,"y2":138.7},{"kind":"inner","x":314.3,"y":154.3,"x2":577.7,"y2":154.3},{"kind":"inner","x":314.3,"y":169.7,"x2":577.7,"y2":169.7},{"kind":"inner","x":458.7,"y":123,"x2":458.7,"y2":185.3}
],
"swatches":[
{"lev":0,"x":314.3,"x2":393,"y":-170.7,"y2":-159.2},{"lev":1,"x":314.3,"x2":393,"y":-159.2,"y2":-147.7},{"lev":2,"x":314.3,"x2":393,"y":-147.7,"y2":-136.2},{"lev":3,"x":314.3,"x2":393,"y":-136.2,"y2":-124.7},{"lev":4,"x":314.3,"x2":393,"y":-124.7,"y2":-113.2},{"lev":5,"x":314.3,"x2":393,"y":-113.2,"y2":-101.7},{"lev":6,"x":314.3,"x2":393,"y":-101.7,"y2":-90.2},{"lev":7,"x":314.3,"x2":393,"y":-90.2,"y2":-78.7},{"lev":8,"x":314.3,"x2":393,"y":-78.7,"y2":-67.2},{"lev":9,"x":314.3,"x2":393,"y":-67.2,"y2":-55.7}
],
"symbols":[
{"set":"pole","typ":"K","x":-13,"y":-228.7},{"set":"pole","typ":"K","x":-63,"y":-224.7},{"set":"pole","typ":"K","x":-61.3,"y":-205.3},{"set":"pole","typ":"K","x":-97.3,"y":-204},{"set":"pole","typ":"K","x":-111.3,"y":-201.3},{"set":"pole","typ":"K","x":-139,"y":-184},{"set":"pole","typ":"K","x":-164.7,"y":-173},{"set":"pole","typ":"K","x":-135.7,"y":-108.7},{"set":"pole","typ":"K","x":-144.3,"y":-75.7},{"set":"pole","typ":"K","x":-153.7,"y":-13},{"set":"pole","typ":"K","x":-78,"y":-15.3},{"set":"pole","typ":"K","x":107,"y":-208},{"set":"pole","typ":"K","x":117,"y":-212},{"set":"pole","typ":"K","x":104.7,"y":-203},{"set":"pole","typ":"K","x":126,"y":-195.3},{"set":"pole","typ":"K","x":104.3,"y":-188},{"set":"pole","typ":"K","x":85.3,"y":-182},{"set":"pole","typ":"K","x":113,"y":-152},{"set":"pole","typ":"K","x":133,"y":-155.3},{"set":"pole","typ":"K","x":205.3,"y":-137},{"set":"pole","typ":"K","x":223.7,"y":-39.3},{"set":"pole","typ":"K","x":-45.7,"y":20.3},{"set":"pole","typ":"K","x":-57,"y":104.7},{"set":"pole","typ":"K","x":-179.7,"y":126},{"set":"pole","typ":"K","x":-78,"y":144},{"set":"pole","typ":"K","x":-89.7,"y":158.7},{"set":"pole","typ":"K","x":-133,"y":165},{"set":"pole","typ":"K","x":-32.3,"y":169},{"set":"pole","typ":"K","x":10.3,"y":182.3},{"set":"pole","typ":"K","x":-125,"y":190.3},{"set":"pole","typ":"K","x":-125.7,"y":201},{"set":"pole","typ":"K","x":-70.7,"y":192.3},{"set":"pole","typ":"K","x":-67.3,"y":227.3},{"set":"pole","typ":"K","x":-25.3,"y":237.7},{"set":"pole","typ":"K","x":167,"y":21.3},{"set":"pole","typ":"K","x":243.7,"y":21.3},{"set":"pole","typ":"K","x":209.3,"y":30.7},{"set":"pole","typ":"K","x":202,"y":33},{"set":"pole","typ":"K","x":199.3,"y":34.7},{"set":"pole","typ":"K","x":104.7,"y":152.3},{"set":"pole","typ":"K","x":132,"y":172.7},{"set":"pole","typ":"K","x":24.7,"y":213.3},{"set":"pole","typ":"K","x":109.5,"y":-208.5},
{"set":"pole","typ":"S","x":-28,"y":-71.3},{"set":"pole","typ":"S","x":-9,"y":-65.3},{"set":"pole","typ":"S","x":-43,"y":-54.7},{"set":"pole","typ":"S","x":-26.3,"y":-54},{"set":"pole","typ":"S","x":-19.7,"y":-50.3},{"set":"pole","typ":"S","x":-7.3,"y":-51.3},{"set":"pole","typ":"S","x":-1.3,"y":-53.7},{"set":"pole","typ":"S","x":8.7,"y":-37},{"set":"pole","typ":"S","x":19.3,"y":-43},{"set":"pole","typ":"S","x":26.3,"y":-38},{"set":"pole","typ":"S","x":44.7,"y":-38.7},{"set":"pole","typ":"S","x":40.3,"y":-32.3},{"set":"pole","typ":"S","x":23,"y":-26.3},{"set":"pole","typ":"S","x":27,"y":-27.3},{"set":"pole","typ":"S","x":30.3,"y":-28.7},{"set":"pole","typ":"S","x":33.3,"y":-28},{"set":"pole","typ":"S","x":45.3,"y":-16.3},{"set":"pole","typ":"S","x":38,"y":-6.3},{"set":"pole","typ":"S","x":42.7,"y":-10.7},{"set":"pole","typ":"S","x":47.7,"y":-5.3},{"set":"pole","typ":"S","x":48,"y":-0.3},{"set":"pole","typ":"S","x":59.3,"y":3},{"set":"pole","typ":"S","x":46.3,"y":12},{"set":"pole","typ":"S","x":22,"y":20.3},{"set":"pole","typ":"S","x":37,"y":38.7},{"set":"pole","typ":"S","x":62.7,"y":31.3},{"set":"pole","typ":"S","x":32,"y":-1},{"set":"pole","typ":"S","x":36,"y":-15},
{"set":"pole","typ":"SF","x":160,"y":-91},{"set":"pole","typ":"SF","x":25.3,"y":-31.3},{"set":"pole","typ":"SF","x":22,"y":-10.7},{"set":"pole","typ":"SF","x":28,"y":-24},
{"set":"legend","typ":"K","x":340.3,"y":-229.7},{"set":"legend","typ":"S","x":340.3,"y":-214.7},{"set":"legend","typ":"SF","x":340.3,"y":-198}
],
"texts":[
{"k":"card","t":"N","x":0,"y":-266},{"k":"card","t":"E","x":265,"y":-0.5},{"k":"card","t":"S","x":-1,"y":268},{"k":"card","t":"W","x":-268,"y":-0.5},
{"k":"hc","t":"Symbol","x":340.3,"y":-244},{"k":"hl","t":"TYP","x":369.7,"y":-244},{"k":"hr","t":"Quantity","x":569.3,"y":-244},
{"k":"vl","t":"K","x":369.7,"y":-229.7},{"k":"vl","t":"S","x":369.7,"y":-214.7},{"k":"vl","t":"SF","x":369.7,"y":-198},
{"k":"vr","t":"43","x":555.3,"y":-229.7},{"k":"vr","t":"28","x":555.3,"y":-214.7},{"k":"vr","t":"4","x":555.3,"y":-198},
{"k":"hc","t":"Color","x":353.7,"y":-178},{"k":"hc","t":"Density Concentrations","x":485.3,"y":-178},
{"k":"vr","t":"0.00","x":470.3,"y":-165.3},{"k":"vc","t":"-","x":486,"y":-165.3},{"k":"vl","t":"1.40","x":502,"y":-165.3},
{"k":"vr","t":"1.40","x":470.3,"y":-153.8},{"k":"vc","t":"-","x":486,"y":-153.8},{"k":"vl","t":"2.80","x":502,"y":-153.8},
{"k":"vr","t":"2.80","x":470.3,"y":-142.3},{"k":"vc","t":"-","x":486,"y":-142.3},{"k":"vl","t":"4.20","x":502,"y":-142.3},
{"k":"vr","t":"4.20","x":470.3,"y":-130.8},{"k":"vc","t":"-","x":486,"y":-130.8},{"k":"vl","t":"5.60","x":502,"y":-130.8},
{"k":"vr","t":"5.60","x":470.3,"y":-119.3},{"k":"vc","t":"-","x":486,"y":-119.3},{"k":"vl","t":"7.00","x":502,"y":-119.3},
{"k":"vr","t":"7.00","x":470.3,"y":-107.8},{"k":"vc","t":"-","x":486,"y":-107.8},{"k":"vl","t":"8.40","x":502,"y":-107.8},
{"k":"vr","t":"8.40","x":470.3,"y":-96.3},{"k":"vc","t":"-","x":486,"y":-96.3},{"k":"vl","t":"9.80","x":502,"y":-96.3},
{"k":"vr","t":"9.80","x":470.3,"y":-84.8},{"k":"vc","t":"-","x":486,"y":-84.8},{"k":"vl","t":"11.20","x":502,"y":-84.8},
{"k":"vr","t":"11.20","x":470.3,"y":-73.3},{"k":"vc","t":"-","x":486,"y":-73.3},{"k":"vl","t":"12.60","x":502,"y":-73.3},
{"k":"vr","t":"12.60","x":470.3,"y":-61.8},{"k":"vc","t":"-","x":486,"y":-61.8},{"k":"vl","t":"14.00","x":502,"y":-61.8},
{"k":"hr","t":"Contour Data","x":452.7,"y":-47.3},{"k":"vl","t":"Pole Vectors","x":462,"y":-47.3},
{"k":"hr","t":"Maximum Density","x":452.7,"y":-31.3},{"k":"vl","t":"13.78%","x":462,"y":-31.3},
{"k":"hr","t":"Contour Distribution","x":452.7,"y":-16.3},{"k":"vl","t":"Fisher","x":462,"y":-16.3},
{"k":"hr","t":"Counting Circle Size","x":452.7,"y":-0.7},{"k":"vl","t":"1.0%","x":462,"y":-0.7},
{"k":"hr","t":"Kinematic Analysis","x":414.3,"y":19.7},{"k":"vl","t":"Planar Sliding","x":423.7,"y":19.7},
{"k":"hr","t":"Slope Dip","x":414.3,"y":34.7},{"k":"vl","t":"85","x":423.7,"y":34.7},
{"k":"hr","t":"Slope Dip Direction","x":414.3,"y":50.3},{"k":"vl","t":"160","x":423.7,"y":50.3},
{"k":"hr","t":"Friction Angle","x":414.3,"y":65.3},{"k":"vl","t":"35°","x":423.7,"y":65.3},
{"k":"hr","t":"Lateral Limits","x":414.3,"y":81},{"k":"vl","t":"30°","x":423.7,"y":81},
{"k":"hc","t":"Critical","x":479.3,"y":96.3},{"k":"hc","t":"Total","x":519,"y":96.3},{"k":"hc","t":"%","x":558.7,"y":96.3},
{"k":"vr","t":"Planar Sliding (All)","x":456.3,"y":111},{"k":"vc","t":"5","x":479.3,"y":111},{"k":"vc","t":"75","x":519,"y":111},{"k":"vc","t":"6.67%","x":558.7,"y":111},
{"k":"hr","t":"Plot Mode","x":452.7,"y":131.3},{"k":"vl","t":"Pole Vectors","x":462,"y":131.3},
{"k":"hr","t":"Vector Count","x":452.7,"y":147},{"k":"vl","t":"75 (75 Entries)","x":462,"y":147},
{"k":"hr","t":"Hemisphere","x":452.7,"y":162},{"k":"vl","t":"Lower","x":462,"y":162},
{"k":"hr","t":"Projection","x":452.7,"y":177.7},{"k":"vl","t":"Equal Angle","x":462,"y":177.7}
]
},
"layer":[
{"data":{"name":"rules"},"transform":[{"filter":"datum.kind=='frame'"}],"mark":{"type":"rule","color":"#000000","strokeWidth":1.2},"encoding":{"x2":{"field":"x2"},"y2":{"field":"y2"}}},
{"data":{"name":"rules"},"transform":[{"filter":"datum.kind=='frame2'"}],"mark":{"type":"rule","color":"#000000","strokeWidth":2.2},"encoding":{"x2":{"field":"x2"},"y2":{"field":"y2"}}},
{"data":{"name":"contours"},"transform":[{"filter":"datum.lev==1"}],"mark":{"type":"line","interpolate":"linear-closed","order":false,"filled":true,"fill":"#f2f2f2","stroke":"#333333","strokeWidth":0.9},"encoding":{"detail":{"field":"id","type":"nominal"}}},
{"data":{"name":"contours"},"transform":[{"filter":"datum.lev==2"}],"mark":{"type":"line","interpolate":"linear-closed","order":false,"filled":true,"fill":"#e5e5e5","stroke":"#333333","strokeWidth":0.9},"encoding":{"detail":{"field":"id","type":"nominal"}}},
{"data":{"name":"contours"},"transform":[{"filter":"datum.lev==3"}],"mark":{"type":"line","interpolate":"linear-closed","order":false,"filled":true,"fill":"#d8d8d8","stroke":"#333333","strokeWidth":0.9},"encoding":{"detail":{"field":"id","type":"nominal"}}},
{"data":{"name":"contours"},"transform":[{"filter":"datum.lev==4"}],"mark":{"type":"line","interpolate":"linear-closed","order":false,"filled":true,"fill":"#cbcbcb","stroke":"#333333","strokeWidth":0.9},"encoding":{"detail":{"field":"id","type":"nominal"}}},
{"data":{"name":"contours"},"transform":[{"filter":"datum.lev==5"}],"mark":{"type":"line","interpolate":"linear-closed","order":false,"filled":true,"fill":"#bebebe","stroke":"#333333","strokeWidth":0.9},"encoding":{"detail":{"field":"id","type":"nominal"}}},
{"data":{"name":"contours"},"transform":[{"filter":"datum.lev==6"}],"mark":{"type":"line","interpolate":"linear-closed","order":false,"filled":true,"fill":"#b1b1b1","stroke":"#333333","strokeWidth":0.9},"encoding":{"detail":{"field":"id","type":"nominal"}}},
{"data":{"name":"contours"},"transform":[{"filter":"datum.lev==7"}],"mark":{"type":"line","interpolate":"linear-closed","order":false,"filled":true,"fill":"#a4a4a4","stroke":"#333333","strokeWidth":0.9},"encoding":{"detail":{"field":"id","type":"nominal"}}},
{"data":{"name":"contours"},"transform":[{"filter":"datum.lev==8"}],"mark":{"type":"line","interpolate":"linear-closed","order":false,"filled":true,"fill":"#979797","stroke":"#333333","strokeWidth":0.9},"encoding":{"detail":{"field":"id","type":"nominal"}}},
{"data":{"name":"contours"},"transform":[{"filter":"datum.lev==9"}],"mark":{"type":"line","interpolate":"linear-closed","order":false,"filled":true,"fill":"#8a8a8a","stroke":"#333333","strokeWidth":0.9},"encoding":{"detail":{"field":"id","type":"nominal"}}},
{"data":{"name":"wedge"},"mark":{"type":"line","interpolate":"linear-closed","order":false,"filled":true,"fill":"#ff0000","fillOpacity":0.3,"strokeWidth":0},"encoding":{}},
{"data":{"name":"envelope"},"mark":{"type":"line","order":false,"color":"#2e2e2e","strokeWidth":1},"encoding":{}},
{"data":{"name":"rules"},"transform":[{"filter":"datum.kind=='lat'"}],"mark":{"type":"rule","color":"#3a3a3a","strokeWidth":1},"encoding":{"x2":{"field":"x2"},"y2":{"field":"y2"}}},
{"data":{"name":"circles"},"transform":[{"filter":"datum.name=='friction'"}],"mark":{"type":"point","shape":"circle","size":25600,"filled":false,"stroke":"#3a3a3a","strokeWidth":1,"opacity":1}},
{"data":{"name":"slopeface"},"mark":{"type":"line","order":false,"color":"#f28a45","strokeWidth":1.8},"encoding":{}},
{"data":{"name":"circles"},"transform":[{"filter":"datum.name=='primitive'"}],"mark":{"type":"point","shape":"circle","size":253009,"filled":false,"stroke":"#111111","strokeWidth":1.6,"opacity":1}},
{"data":{"name":"rules"},"transform":[{"filter":"datum.kind=='tick'"}],"mark":{"type":"rule","color":"#111111","strokeWidth":1.3},"encoding":{"x2":{"field":"x2"},"y2":{"field":"y2"}}},
{"data":{"name":"texts"},"transform":[{"filter":"datum.k=='card'"}],"mark":{"type":"text","align":"center","baseline":"middle","fontSize":14,"color":"#222222"},"encoding":{"text":{"field":"t"}}},
{"data":{"name":"symbols"},"transform":[{"filter":"datum.typ=='K'"}],"mark":{"type":"point","shape":"square","filled":true,"color":"#ff0000","size":30,"opacity":1}},
{"data":{"name":"symbols"},"transform":[{"filter":"datum.typ=='S'"}],"mark":{"type":"point","shape":"circle","filled":true,"color":"#0000ff","size":24,"opacity":1}},
{"data":{"name":"symbols"},"transform":[{"filter":"datum.typ=='SF'"}],"mark":{"type":"point","shape":"triangle-up","filled":false,"color":"#2e9e6e","size":20,"strokeWidth":0.8,"opacity":1}},
{"data":{"name":"swatches"},"mark":{"type":"rect"},"encoding":{"x2":{"field":"x2"},"y2":{"field":"y2"},"fill":{"field":"lev","type":"ordinal","scale":{"domain":[0,1,2,3,4,5,6,7,8,9],"range":["#ffffff","#f2f2f2","#e5e5e5","#d8d8d8","#cbcbcb","#bebebe","#b1b1b1","#a4a4a4","#979797","#8a8a8a"]},"legend":null}}},
{"data":{"name":"rules"},"transform":[{"filter":"datum.kind=='inner'"}],"mark":{"type":"rule","color":"#555555","strokeWidth":1},"encoding":{"x2":{"field":"x2"},"y2":{"field":"y2"}}},
{"data":{"name":"rules"},"transform":[{"filter":"datum.kind=='outer'"}],"mark":{"type":"rule","color":"#333333","strokeWidth":1.6},"encoding":{"x2":{"field":"x2"},"y2":{"field":"y2"}}},
{"data":{"name":"texts"},"transform":[{"filter":"datum.k=='hc'"}],"mark":{"type":"text","align":"center","baseline":"middle","fontSize":8.5,"fontWeight":"bold","color":"#1a1a1a"},"encoding":{"text":{"field":"t"}}},
{"data":{"name":"texts"},"transform":[{"filter":"datum.k=='hl'"}],"mark":{"type":"text","align":"left","baseline":"middle","fontSize":8.5,"fontWeight":"bold","color":"#1a1a1a"},"encoding":{"text":{"field":"t"}}},
{"data":{"name":"texts"},"transform":[{"filter":"datum.k=='hr'"}],"mark":{"type":"text","align":"right","baseline":"middle","fontSize":8.5,"fontWeight":"bold","color":"#1a1a1a"},"encoding":{"text":{"field":"t"}}},
{"data":{"name":"texts"},"transform":[{"filter":"datum.k=='vl'"}],"mark":{"type":"text","align":"left","baseline":"middle","fontSize":8,"color":"#333333"},"encoding":{"text":{"field":"t"}}},
{"data":{"name":"texts"},"transform":[{"filter":"datum.k=='vr'"}],"mark":{"type":"text","align":"right","baseline":"middle","fontSize":8,"color":"#333333"},"encoding":{"text":{"field":"t"}}},
{"data":{"name":"texts"},"transform":[{"filter":"datum.k=='vc'"}],"mark":{"type":"text","align":"center","baseline":"middle","fontSize":8,"color":"#333333"},"encoding":{"text":{"field":"t"}}}
]
}
